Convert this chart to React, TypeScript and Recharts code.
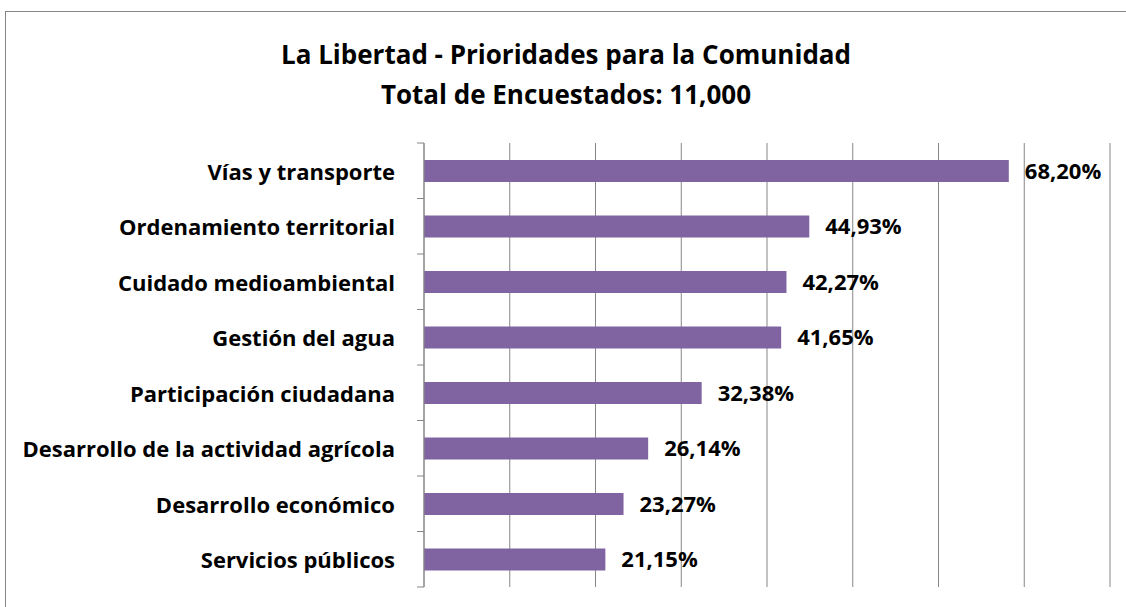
import React from "react";
import { Bar, BarChart, CartesianGrid, LabelList, XAxis, YAxis } from "recharts";

const categories = [
  "Vías y transporte",
  "Ordenamiento territorial",
  "Cuidado medioambiental",
  "Gestión del agua",
  "Participación ciudadana",
  "Desarrollo de la actividad agrícola",
  "Desarrollo económico",
  "Servicios públicos",
];
const percentages = [68.2, 44.93, 42.27, 41.65, 32.38, 26.14, 23.27, 21.15];
const xTicks = [0, 10, 20, 30, 40, 50, 60, 70, 80];
const titleLines = ["La Libertad - Prioridades para la Comunidad", "Total de Encuestados: 11,000"];

const data = categories.map((name, i) => ({ name, value: percentages[i] }));

const FONT = "'Open Sans', Lato, sans-serif";
const GRID = "#868686";
const BAR = "#8064A2";
const TICK_SIZE = 7;
const TICK_MARGIN = 22;

const fmt = (v: number) => v.toFixed(2).replace(".", ",") + "%";

function CategoryTick(props: any) {
  const { x, y, payload, index, visibleTicksCount } = props;
  const half = payload?.offset ?? 0;
  const axisX = x + TICK_MARGIN + TICK_SIZE;
  return (
    <g>
      <line x1={axisX - TICK_SIZE} x2={axisX} y1={y - half} y2={y - half} stroke={GRID} />
      {index === visibleTicksCount - 1 && (
        <line x1={axisX - TICK_SIZE} x2={axisX} y1={y + half} y2={y + half} stroke={GRID} />
      )}
      <text
        x={x}
        y={y}
        textAnchor="end"
        dominantBaseline="central"
        fontFamily={FONT}
        fontWeight={700}
        fontSize={22}
        fill="#000"
      >
        {payload.value}
      </text>
    </g>
  );
}

export default function App() {
  return (
    <div
      style={{
        position: "absolute",
        left: 5,
        top: 11,
        width: 1130,
        height: 610,
        border: `1px solid ${GRID}`,
        background: "#fff",
      }}
    >
      <div
        style={{
          position: "absolute",
          left: 0,
          top: 22,
          width: 1120,
          textAlign: "center",
          fontFamily: FONT,
          fontWeight: 700,
          fontSize: 26,
          lineHeight: "40px",
          color: "#000",
        }}
      >
        {titleLines.map((t) => (
          <div key={t}>{t}</div>
        ))}
      </div>
      <BarChart
        width={1120}
        height={596}
        data={data}
        layout="vertical"
        margin={{ top: 131, right: 16, bottom: 21, left: 0 }}
      >
        <CartesianGrid horizontal={false} stroke={GRID} />
        <XAxis type="number" domain={[0, 80]} ticks={xTicks} hide />
        <YAxis
          type="category"
          dataKey="name"
          width={418}
          axisLine={{ stroke: GRID }}
          tickLine={false}
          tickSize={TICK_SIZE}
          tickMargin={TICK_MARGIN}
          tick={<CategoryTick />}
          interval={0}
        />
        <Bar dataKey="value" fill={BAR} barSize={22} isAnimationActive={false}>
          <LabelList
            dataKey="value"
            position="right"
            offset={16}
            formatter={(v: any) => fmt(Number(v))}
            style={{ fontFamily: FONT, fontWeight: 700, fontSize: 22, fill: "#000" }}
          />
        </Bar>
      </BarChart>
    </div>
  );
}
